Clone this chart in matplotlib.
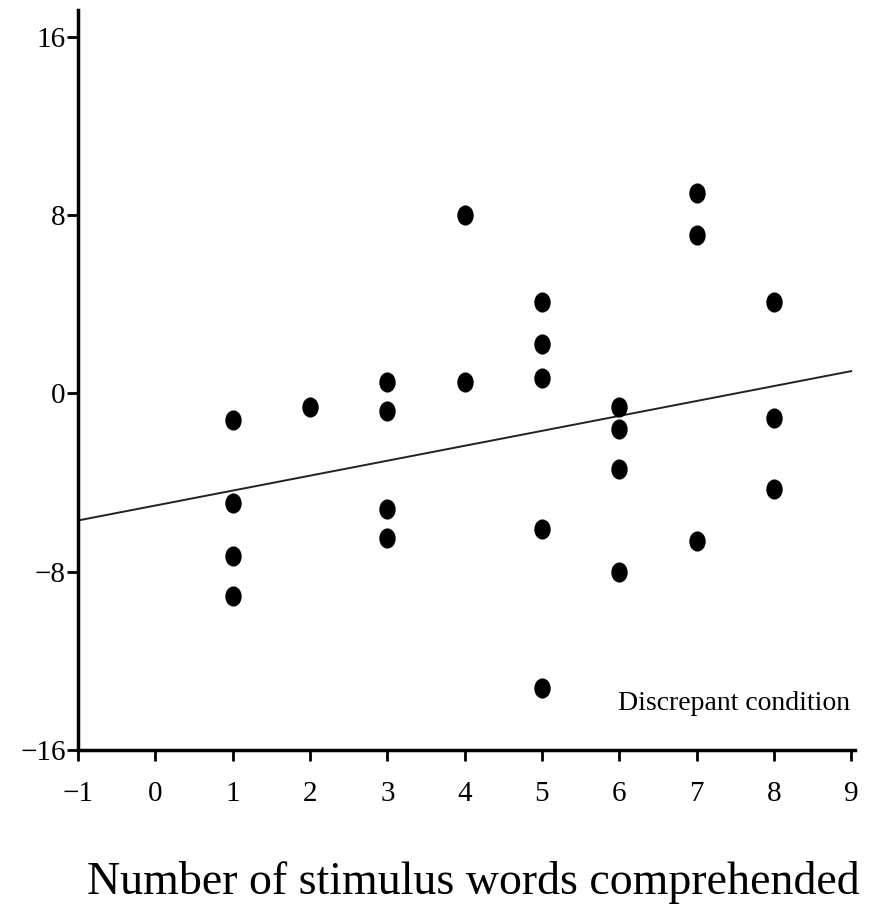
import matplotlib.pyplot as plt
from matplotlib.path import Path
from matplotlib.transforms import Affine2D

plt.rcParams['font.family'] = ['Liberation Serif', 'DejaVu Serif']

# words comprehended vs score (Discrepant condition)
words = [1, 1, 1, 1, 2, 3, 3, 3, 3, 4, 4, 5, 5, 5, 5, 5, 6, 6, 6, 6, 7, 7, 7, 8, 8, 8]
scores = [-1.2, -4.9, -7.3, -9.1, -0.6, 0.5, -0.8, -5.2, -6.5, 8.0, 0.5,
          4.1, 2.2, 0.7, -6.1, -13.2, -0.6, -1.6, -3.4, -8.0,
          9.0, 7.1, -6.6, 4.1, -1.1, -4.3]

# regression line end points
fit_x = [-1, 9]
fit_y = [-5.7, 1.0]

x_ticks = [-1, 0, 1, 2, 3, 4, 5, 6, 7, 8, 9]
y_ticks = [-16, -8, 0, 8, 16]

fig = plt.figure(figsize=(8.77, 9.14), dpi=100)
ax = fig.add_axes([0.089, 0.1794, 0.886, 0.8096])

# slightly tall ellipse marker, like the scanned dots
dot = Path.unit_circle().transformed(Affine2D().scale(0.8, 1.0))

ax.plot(fit_x, fit_y, color='#222222', lw=1.4)
ax.plot(words, scores, linestyle='none', marker=dot, markersize=13.5, color='black')

ax.set_xlim(-1, 9.05)
ax.set_ylim(-16, 17.2)
ax.set_xticks(x_ticks)
ax.set_yticks(y_ticks)
ax.set_xticklabels(['\u2212' + str(-v) if v < 0 else str(v) for v in x_ticks])
ax.set_yticklabels(['\u2212' + str(-v) if v < 0 else str(v) for v in y_ticks])

for s in ['top', 'right']:
    ax.spines[s].set_visible(False)
for s in ['left', 'bottom']:
    ax.spines[s].set_linewidth(2.5)

ax.tick_params(axis='y', direction='out', length=8, width=2, labelsize=21, pad=1)
ax.tick_params(axis='x', direction='out', length=8, width=2, labelsize=21, pad=14)

ax.text(8.98, -14.2, 'Discrepant condition', ha='right', va='baseline', fontsize=20)

fig.text(0.54, 0.022, 'Number of stimulus words comprehended', ha='center',
         va='baseline', fontsize=33)

fig.savefig('out.png', dpi=100)
